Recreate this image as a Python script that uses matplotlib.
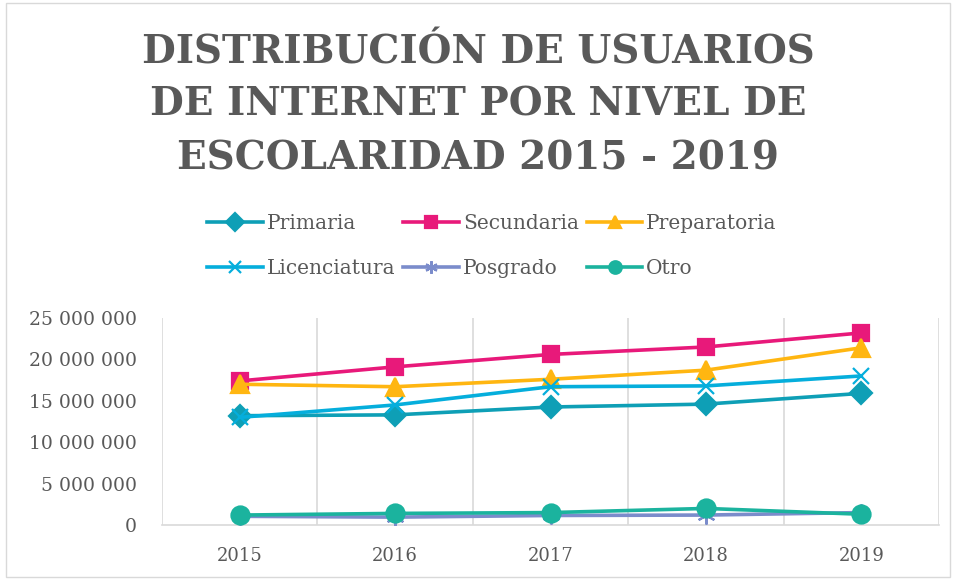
import matplotlib
matplotlib.use("Agg")
import matplotlib.pyplot as plt
import numpy as np

years = ["2015", "2016", "2017", "2018", "2019"]
primaria = [13.2e6, 13.3e6, 14.25e6, 14.6e6, 15.9e6]
secundaria = [17.4e6, 19.1e6, 20.6e6, 21.5e6, 23.2e6]
preparatoria = [17.0e6, 16.7e6, 17.6e6, 18.7e6, 21.4e6]
licenciatura = [13.0e6, 14.5e6, 16.7e6, 16.8e6, 18.0e6]
posgrado = [1.05e6, 0.95e6, 1.15e6, 1.2e6, 1.5e6]
otro = [1.2e6, 1.4e6, 1.5e6, 2.0e6, 1.3e6]

series = [
    ("Primaria", primaria, "#0E9FB6", "D", 11),
    ("Secundaria", secundaria, "#E8197A", "s", 12),
    ("Preparatoria", preparatoria, "#FFB611", "^", 13),
    ("Licenciatura", licenciatura, "#05AEDC", "x", 12),
    ("Posgrado", posgrado, "#7B8CCB", (6, 2, 0), 13),
    ("Otro", otro, "#1BB39E", "o", 13),
]

grey = "#595959"
plt.rcParams['font.family'] = ['DejaVu Serif']

fig = plt.figure(figsize=(9.56, 5.79), dpi=100)
ax = fig.add_axes([162/956, 1 - 525/579, (939-162)/956, (525-318)/579])

x = np.arange(len(years))
handles = []
for name, vals, col, mk, ms in series:
    line, = ax.plot(x, vals, color=col, lw=2.6, marker=mk, markersize=ms,
                    markeredgewidth=1.6, label=name, zorder=3)
    handles.append(line)

ax.set_xlim(-0.5, 4.5)
ax.set_ylim(0, 25e6)
ax.set_yticks(np.arange(0, 25e6 + 1, 5e6))
ax.set_yticklabels(["0", "5 000 000", "10 000 000", "15 000 000", "20 000 000", "25 000 000"],
                   fontsize=13.5, color=grey)
ax.set_xticks(x)
ax.set_xticklabels(years, fontsize=13, color=grey)
for b in np.arange(-0.5, 4.6, 1):
    ax.axvline(b, color="#D9D9D9", lw=1.2, zorder=1)
ax.tick_params(axis="y", length=0, pad=18)
ax.tick_params(axis="x", length=0, pad=16)
for s in ["top", "right", "left"]:
    ax.spines[s].set_visible(False)
ax.spines["bottom"].set_color("#D9D9D9")
ax.spines["bottom"].set_linewidth(1.2)

fig.text(0.5, 1 - 105/579, "DISTRIBUCIÓN DE USUARIOS\nDE INTERNET POR NIVEL DE\nESCOLARIDAD 2015 - 2019",
         ha="center", va="center", fontsize=28, fontweight="bold", color=grey,
         linespacing=1.5)

# row-major order: matplotlib fills legends column by column
order = [0, 3, 1, 4, 2, 5]
leg = fig.legend([handles[i] for i in order], [series[i][0] for i in order],
                 loc="center", bbox_to_anchor=(492/956, 1 - 246/579), ncol=3,
                 frameon=False, fontsize=14.5, handlelength=2.75, handletextpad=0.2,
                 columnspacing=0.4, labelspacing=1.3)
for t in leg.get_texts():
    t.set_color(grey)
for h in leg.legend_handles:
    h.set_markersize(9)

fig.patches.append(plt.Rectangle((0.006, 0.004), 0.988, 0.99, transform=fig.transFigure,
                                 fill=False, edgecolor="#D9D9D9", lw=1))

fig.savefig("out.png", dpi=100)
